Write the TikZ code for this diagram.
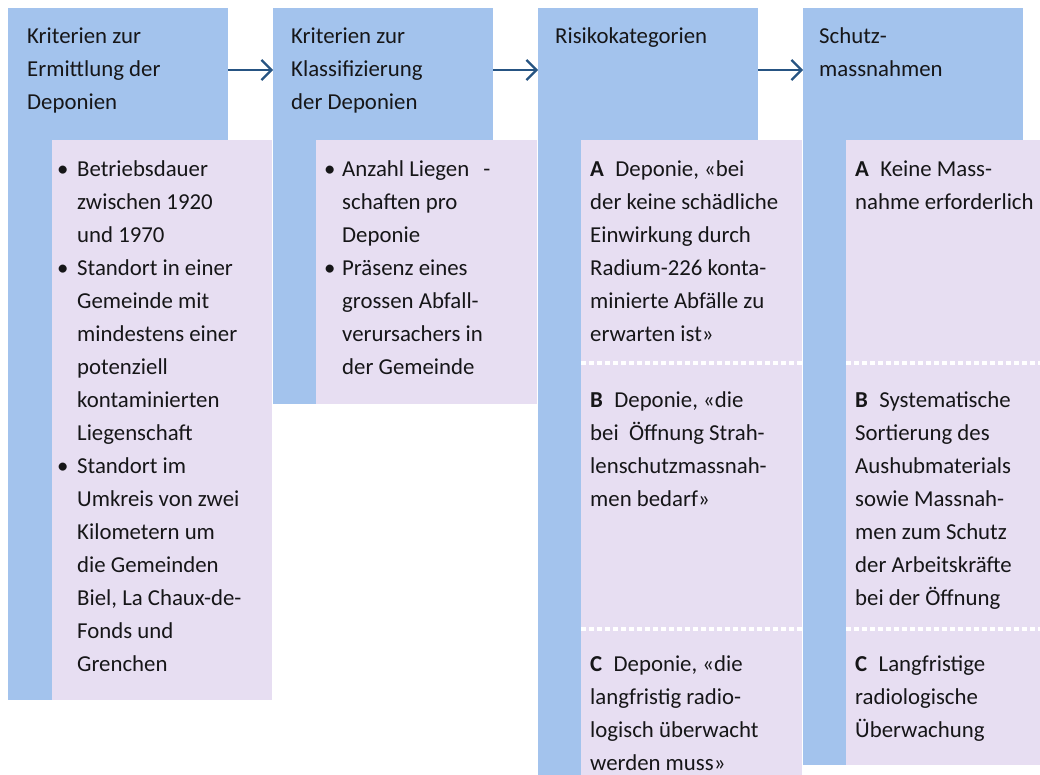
\documentclass[tikz,border=0pt]{standalone}
\usepackage{fontspec}
\setmainfont{Carlito}
\usetikzlibrary{arrows.meta}
\definecolor{colBlue}{RGB}{163,195,237}
\definecolor{listPurple}{RGB}{231,222,242}
\definecolor{flowBlue}{RGB}{38,84,130}
\definecolor{inkGrey}{RGB}{22,22,24}
\begin{document}
\begin{tikzpicture}[x=1pt, y=-1pt,
  colbox/.style={fill=colBlue, draw=none, inner sep=0pt, minimum width=220pt, anchor=north west},
  listbox/.style={fill=listPurple, draw=none, inner sep=0pt, anchor=north west},
  txt/.style={inner sep=0pt, anchor=north west, align=left, text=inkGrey, font=\fontsize{22.8}{33}\selectfont},
  flow/.style={draw=flowBlue, line width=2.2pt, -{Straight Barb[length=10pt,width=20pt,line width=2.2pt]}},
  sepline/.style={draw=white, line width=3.5pt, dash pattern=on 5pt off 3pt}]
% Page frame in pixel units
\def\sepA{223pt}
\def\sepB{489pt}
\useasboundingbox (0,0) rectangle (1040,775);
% Column backgrounds
\node (ermittlung) [colbox, minimum height=692pt] at (8,8) {};
\node (klassi) [colbox, minimum height=396pt] at (273,8) {};
\node (risiko) [colbox, minimum height=767pt] at (538,8) {};
\node (schutz) [colbox, minimum height=757pt] at (803,8) {};
% Lists
\node (ermList) [listbox, minimum width=220pt, minimum height=560pt] at (52,140) {};
\node (klassList) [listbox, minimum width=221pt, minimum height=264pt] at (316,140) {};
\node (katList) [listbox, minimum width=221pt, minimum height=635pt] at (581,140) {};
\node (massList) [listbox, minimum width=194pt, minimum height=625pt] at (846,140) {};
% Separators between categories
\draw[sepline] ([yshift=-\sepA]katList.north west) -- ([yshift=-\sepA]katList.north east);
\draw[sepline] ([yshift=-\sepB]katList.north west) -- ([yshift=-\sepB]katList.north east);
\draw[sepline] ([yshift=-\sepA]massList.north west) -- ([yshift=-\sepA]massList.north east);
\draw[sepline] ([yshift=-\sepB]massList.north west) -- ([yshift=-\sepB]massList.north east);
% Flow arrows
\draw[flow] ([yshift=-62pt]ermittlung.north east) -- ([yshift=-62pt]klassi.north west);
\draw[flow] ([yshift=-62pt]klassi.north east) -- ([yshift=-62pt]risiko.north west);
\draw[flow] ([yshift=-62pt]risiko.north east) -- ([yshift=-62pt]schutz.north west);
% Headings
\node (ermHead) [txt] at (27,20) {\strut Kriterien zur\\Ermittlung der\\Deponien};
\node (klassHead) [txt] at (291,20) {\strut Kriterien zur\\Klassifizierung\\der Deponien};
\node (risikoHead) [txt] at (555,20) {\strut Risikokategorien};
\node (schutzHead) [txt] at (819,20) {\strut Schutz-\\massnahmen};
% Criteria for locating the sites
\node (ermDotA) [txt] at (57,153) {\strut\textbullet};
\node (ermItemA) [txt] at (77,153) {\strut Betriebsdauer\\zwischen 1920\\und 1970};
\node (ermDotB) [txt] at (57,252) {\strut\textbullet};
\node (ermItemB) [txt] at (77,252) {\strut Standort in einer\\Gemeinde mit\\mindestens einer\\potenziell\\kontaminierten\\Liegenschaft};
\node (ermDotC) [txt] at (57,450) {\strut\textbullet};
\node (ermItemC) [txt] at (77,450) {\strut Standort im\\Umkreis von zwei\\Kilometern um\\die Gemeinden\\Biel, La Chaux-de-\\Fonds und\\Grenchen};
% Criteria for classification
\node (klassDotA) [txt] at (324,153) {\strut\textbullet};
\node (klassItemA) [txt] at (342,153) {\strut Anzahl Liegen\hspace{14pt}-\\schaften pro\\Deponie};
\node (klassDotB) [txt] at (324,252) {\strut\textbullet};
\node (klassItemB) [txt] at (342,252) {\strut Präsenz eines\\grossen Abfall-\\verursachers in\\der Gemeinde};
% Risk categories
\node (katA) [txt] at (590,153) {\strut\textbf{A}\enspace Deponie, «bei\\der keine schädliche\\Einwirkung durch\\Radium-226 konta-\\minierte Abfälle zu\\erwarten ist»};
\node (katB) [txt] at (590,384) {\strut\textbf{B}\enspace Deponie, «die\\bei\ \ Öffnung Strah-\\lenschutzmassnah-\\men bedarf»};
\node (katC) [txt] at (590,648) {\strut\textbf{C}\enspace Deponie, «die\\langfristig radio-\\logisch überwacht\\werden muss»};
% Protective measures
\node (massA) [txt] at (855,153) {\strut\textbf{A}\enspace Keine Mass-\\nahme erforderlich};
\node (massB) [txt] at (855,384) {\strut\textbf{B}\enspace Systematische\\Sortierung des\\Aushubmaterials\\sowie Massnah-\\men zum Schutz\\der Arbeitskräfte\\bei der Öffnung};
\node (massC) [txt] at (855,648) {\strut\textbf{C}\enspace Langfristige\\radiologische\\Überwachung};
\end{tikzpicture}
\end{document}
